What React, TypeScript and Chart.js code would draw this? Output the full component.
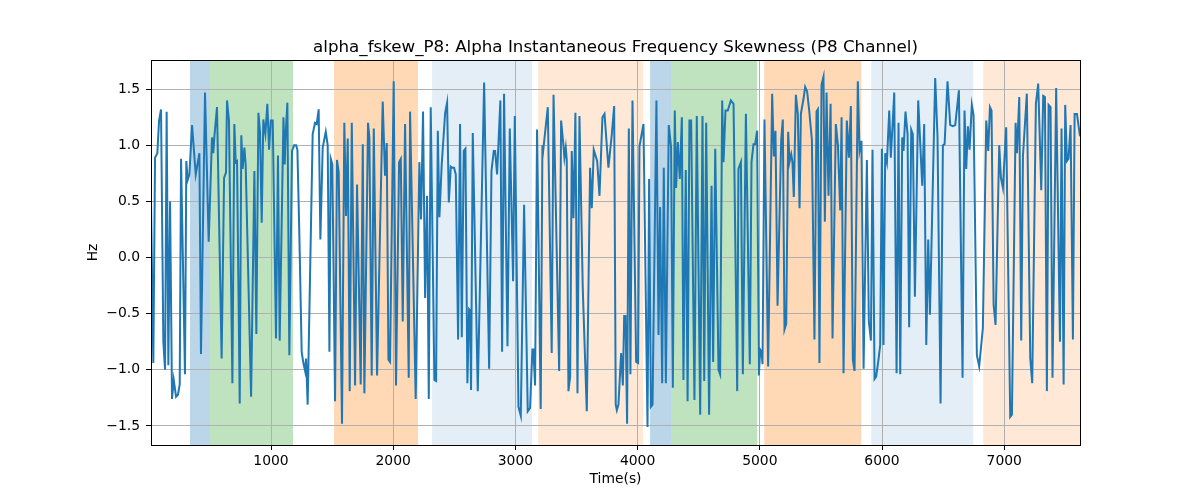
import React, { useEffect, useRef } from "react";
import { Chart, registerables } from "chart.js";

Chart.register(...registerables);

const chartTitle = "alpha_fskew_P8: Alpha Instantaneous Frequency Skewness (P8 Channel)";
const xAxisLabel = "Time(s)";
const yAxisLabel = "Hz";

const xTicks = [1000, 2000, 3000, 4000, 5000, 6000, 7000];
const yTicks = [-1.5, -1.0, -0.5, 0.0, 0.5, 1.0, 1.5];
const xMin = 18;
const xMax = 7620;
const yMin = -1.67;
const yMax = 1.76;

const spanStarts = [337, 501, 1516, 2318, 3186, 4102, 4274, 5036, 5912, 6828];
const spanEnds = [501, 1180, 2203, 3137, 4045, 4274, 4978, 5830, 6746, 7622];
const spanColors = [
  "rgba(31,119,180,0.3)",
  "rgba(44,160,44,0.3)",
  "rgba(255,127,14,0.3)",
  "rgba(31,119,180,0.12)",
  "rgba(255,127,14,0.17)",
  "rgba(31,119,180,0.3)",
  "rgba(44,160,44,0.3)",
  "rgba(255,127,14,0.3)",
  "rgba(31,119,180,0.12)",
  "rgba(255,127,14,0.17)",
];

const times = [
  18, 37, 51, 70, 84, 100, 119, 133, 146, 160, 174, 190, 204, 223, 239, 253, 264, 296, 307, 318,
  332, 354, 384, 414, 427, 460, 490, 517, 528, 536, 558, 596, 616, 632, 640, 656, 684, 700, 711, 722,
  744, 757, 768, 782, 793, 837, 864, 880, 897, 910, 924, 937, 954, 970, 984, 998, 1014, 1041, 1057, 1071,
  1102, 1112, 1120, 1134, 1150, 1172, 1189, 1205, 1216, 1232, 1251, 1265, 1279, 1287, 1300, 1341, 1360, 1374, 1390, 1404,
  1423, 1448, 1464, 1478, 1489, 1502, 1524, 1540, 1554, 1581, 1600, 1614, 1628, 1644, 1661, 1688, 1704, 1734, 1751, 1764,
  1794, 1805, 1824, 1841, 1868, 1914, 1933, 1947, 1961, 1974, 2004, 2023, 2048, 2062, 2078, 2097, 2127, 2138, 2184, 2214,
  2228, 2244, 2261, 2277, 2291, 2307, 2337, 2351, 2365, 2378, 2397, 2425, 2441, 2455, 2471, 2485, 2498, 2512, 2531, 2547,
  2561, 2577, 2591, 2607, 2621, 2629, 2637, 2651, 2692, 2744, 2785, 2804, 2823, 2834, 2850, 2877, 2891, 2907, 2935, 2954,
  2981, 2995, 3025, 3044, 3071, 3101, 3120, 3139, 3147, 3161, 3177, 3207, 3221, 3227, 3265, 3297, 3312, 3358, 3374, 3393,
  3401, 3412, 3420, 3434, 3448, 3461, 3475, 3491, 3508, 3524, 3551, 3584, 3611, 3625, 3641, 3669, 3688, 3712, 3729, 3761,
  3789, 3808, 3821, 3830, 3843, 3865, 3879, 3890, 3901, 3914, 3928, 3941, 3958, 3988, 4004, 4015, 4048, 4081, 4094, 4108,
  4122, 4154, 4171, 4184, 4201, 4214, 4231, 4255, 4274, 4288, 4304, 4315, 4329, 4345, 4362, 4375, 4394, 4409, 4424, 4438,
  4465, 4484, 4512, 4531, 4545, 4561, 4585, 4605, 4618, 4635, 4662, 4675, 4692, 4703, 4719, 4738, 4763, 4785, 4815, 4825,
  4845, 4861, 4886, 4918, 4932, 4948, 4962, 4978, 4992, 5003, 5014, 5022, 5038, 5068, 5101, 5115, 5128, 5145, 5175, 5188,
  5202, 5216, 5232, 5243, 5257, 5267, 5278, 5295, 5311, 5325, 5336, 5357, 5371, 5387, 5404, 5426, 5447, 5464, 5475, 5488,
  5505, 5521, 5532, 5546, 5562, 5579, 5595, 5622, 5639, 5658, 5669, 5685, 5712, 5729, 5745, 5761, 5775, 5802, 5816, 5832,
  5849, 5876, 5892, 5909, 5922, 5939, 5952, 5971, 5985, 5999, 6012, 6026, 6040, 6059, 6072, 6100, 6119, 6135, 6149, 6165,
  6176, 6192, 6209, 6222, 6239, 6252, 6269, 6296, 6329, 6345, 6362, 6378, 6392, 6435, 6454, 6479, 6498, 6512, 6536, 6558,
  6580, 6599, 6629, 6659, 6675, 6689, 6703, 6716, 6735, 6749, 6776, 6795, 6825, 6853, 6869, 6883, 6896, 6913, 6929, 6959,
  6973, 6989, 7016, 7049, 7063, 7093, 7104, 7123, 7139, 7153, 7185, 7213, 7229, 7259, 7278, 7303, 7319, 7333, 7349, 7363,
  7379, 7395, 7425, 7456, 7469, 7486, 7499, 7513, 7526, 7543, 7562, 7576, 7595, 7620,
];

const values = [
  0.49, -0.94, 0.89, 0.93, 1.22, 1.32, -0.75, -1.0, 1.3, -0.96, 0.5, -1.26, -1.09, -1.24, -1.22, -1.13, 0.88, -1.04, 0.86, 0.69,
  0.74, 1.18, 0.74, 0.93, -0.86, 1.47, 0.14, 1.07, 0.93, 1.07, 1.34, -0.9, 0.71, 0.76, 1.4, 1.22, -1.12, 1.19, 0.85, 0.86,
  -1.3, 1.09, 0.79, 0.98, 0.82, -1.24, 0.77, -0.68, 1.29, 1.12, 0.31, 1.23, 1.1, 1.37, 0.96, 1.22, 1.22, -0.72, 0.91, -0.74,
  1.25, 0.83, 1.1, 1.38, -0.87, 0.95, 1.0, 1.0, 0.96, 0.2, -0.84, -0.94, -1.01, -0.9, -1.31, 1.1, 1.2, 1.19, 1.32, 0.16,
  0.98, 1.12, 1.0, -0.84, 0.88, 0.83, -1.28, 0.87, 0.76, -1.48, 1.2, 0.37, 1.06, -1.19, 1.2, -1.14, 0.65, -1.13, 1.01, -1.21,
  1.2, 1.07, -1.05, 1.15, -1.05, 1.39, 0.73, 1.02, -0.91, -0.93, 1.57, -1.14, 0.85, 0.88, -0.57, 1.19, -1.07, 1.3, -1.26, 0.85,
  0.34, 1.3, -0.36, 0.55, -1.26, 1.34, -1.09, -1.1, 1.13, 0.36, 0.83, 1.29, 1.38, 0.49, 0.81, 0.8, 0.8, 0.74, -0.73, 1.19,
  -0.71, 0.95, 0.97, -1.12, -0.46, -0.47, -1.18, 1.11, -1.19, 1.56, -0.99, 0.77, 0.95, 0.95, 0.74, 1.4, -0.84, 1.46, -0.79, 1.15,
  -0.21, 1.26, -1.33, -1.41, 0.47, -1.37, -1.34, -0.82, -0.82, -1.14, 1.14, -1.35, 1.0, 0.95, 1.34, -0.85, 1.45, -1.01, 1.22, 1.0,
  0.89, 0.98, 0.87, -1.19, -1.06, 0.95, 0.35, 1.29, -1.21, 1.26, -0.27, -1.37, 0.8, 0.44, 0.96, 0.86, 0.55, 1.25, 1.28, 0.8,
  1.1, 1.35, -1.31, -1.36, -1.31, -0.85, -1.14, -0.52, -0.52, -1.48, 1.15, -1.04, 1.4, -0.93, -0.94, 0.99, 1.19, -1.51, 0.7, -1.33,
  -1.31, 1.4, -0.69, 0.45, -1.12, 0.8, -1.12, 1.18, 0.98, -1.16, 1.31, 0.62, 1.03, 0.7, 1.25, -1.09, 0.78, -1.28, 1.22, 1.22,
  -1.27, 1.26, -1.4, 1.26, -1.1, 1.2, -1.4, 0.64, -0.93, 0.97, -1.0, -1.04, 1.4, 0.85, 1.31, 1.31, 1.4, 1.37, -1.19, 0.79,
  0.85, -1.04, 1.28, -0.95, 0.85, 1.01, 1.01, 1.13, -1.05, -0.82, -0.84, -0.95, 1.23, -0.97, 1.46, 0.9, 1.13, -0.43, 1.05, 1.23,
  -0.64, -0.59, 1.12, 0.85, 0.92, 0.85, 0.54, 1.45, 1.28, 0.44, 1.28, 1.41, 1.52, 1.48, 1.31, 1.05, -0.73, 1.3, 1.32, -0.94,
  1.54, 1.61, 0.32, 1.47, 0.55, 1.37, -0.72, 1.19, 1.0, 0.42, 1.25, -1.03, 1.22, 0.89, 1.35, -0.91, -1.01, 1.57, 0.95, 1.04,
  -0.99, 0.87, -0.57, -0.74, 0.96, -1.08, -1.06, -0.91, -0.78, 0.97, -0.78, 0.93, 0.85, 1.31, 0.89, 1.47, -1.03, 1.2, -1.04, 1.07,
  0.95, 1.3, 1.1, -0.62, 1.14, 1.1, -0.35, 1.4, 0.64, 1.19, -0.78, 0.16, -0.51, 1.6, 1.08, -1.3, 1.0, 1.01, 1.57, 1.18,
  1.17, 1.18, 1.49, -1.07, 1.31, 0.79, 1.17, 0.96, 1.36, 1.27, -0.87, -0.97, -0.63, 1.22, 0.95, 1.34, 1.31, -0.42, -0.6, 1.0,
  0.71, 0.62, 1.16, -1.42, -1.4, 1.2, 0.93, 1.43, -0.74, 0.9, 1.46, -0.9, -1.12, 1.37, 1.55, 0.6, 1.44, 1.43, -1.19, 1.36,
  1.34, -1.07, 1.51, -0.75, 1.15, -1.13, 1.36, 0.86, 0.88, 1.18, -0.73, 1.28, 1.28, 1.08,
];

const FONT = "'DejaVu Sans', sans-serif";

const spansPlugin = {
  id: "spans",
  beforeDraw(chart: any) {
    const { ctx, chartArea, scales } = chart;
    ctx.save();
    ctx.beginPath();
    ctx.rect(chartArea.left, chartArea.top, chartArea.right - chartArea.left, chartArea.bottom - chartArea.top);
    ctx.clip();
    spanStarts.forEach((s, i) => {
      const x0 = scales.x.getPixelForValue(s);
      const x1 = scales.x.getPixelForValue(spanEnds[i]);
      ctx.fillStyle = spanColors[i];
      ctx.fillRect(x0, chartArea.top, x1 - x0, chartArea.bottom - chartArea.top);
    });
    ctx.restore();
  },
};

const framePlugin = {
  id: "frame",
  afterDraw(chart: any) {
    const { ctx, chartArea } = chart;
    ctx.save();
    ctx.strokeStyle = "#000";
    ctx.lineWidth = 1;
    ctx.strokeRect(
      Math.round(chartArea.left) + 0.5,
      Math.round(chartArea.top) + 0.5,
      Math.round(chartArea.right - chartArea.left),
      Math.round(chartArea.bottom - chartArea.top)
    );
    ctx.fillStyle = "#000";
    ctx.font = `16.7px ${FONT}`;
    ctx.textAlign = "center";
    ctx.textBaseline = "alphabetic";
    ctx.fillText(chartTitle, (chartArea.left + chartArea.right) / 2, 52);
    ctx.restore();
  },
};

export default function App() {
  const ref = useRef<HTMLCanvasElement>(null);
  useEffect(() => {
    if (!ref.current) return;
    const data = times.map((t, i) => ({ x: t, y: values[i] }));
    const chart = new Chart(ref.current, {
      type: "line",
      data: {
        datasets: [
          {
            data,
            borderColor: "#1f77b4",
            borderWidth: 2,
            pointRadius: 0,
            tension: 0,
            fill: false,
          },
        ],
      },
      options: {
        animation: false,
        responsive: false,
        devicePixelRatio: 1,
        layout: { padding: { top: 60, right: 120, bottom: 0, left: 0 } },
        plugins: { legend: { display: false }, tooltip: { enabled: false }, title: { display: false } },
        scales: {
          x: {
            type: "linear",
            min: xMin,
            max: xMax,
            afterBuildTicks: (s: any) => {
              s.ticks = xTicks.map((v) => ({ value: v }));
            },
            afterFit: (s: any) => {
              s.height = 55;
            },
            grid: { color: "#b0b0b0", lineWidth: 1, tickColor: "#000", tickLength: 5, tickWidth: 1 },
            border: { display: true, color: "#000", width: 1 },
            ticks: {
              color: "#000",
              font: { family: FONT, size: 13.9 },
              padding: 3,
              maxRotation: 0,
              autoSkip: false,
              callback: (v: any) => String(v),
            },
            title: {
              display: true,
              text: xAxisLabel,
              color: "#000",
              font: { family: FONT, size: 13.9 },
              padding: { top: 0, bottom: 12 },
            },
          },
          y: {
            type: "linear",
            min: yMin,
            max: yMax,
            afterBuildTicks: (s: any) => {
              s.ticks = yTicks.map((v) => ({ value: v }));
            },
            afterFit: (s: any) => {
              s.width = 151;
            },
            grid: { color: "#b0b0b0", lineWidth: 1, tickColor: "#000", tickLength: 5, tickWidth: 1 },
            border: { display: true, color: "#000", width: 1 },
            ticks: {
              color: "#000",
              font: { family: FONT, size: 13.9 },
              padding: 6,
              autoSkip: false,
              callback: (v: any) => Number(v).toFixed(1).replace("-", "\u2212"),
            },
            title: {
              display: true,
              text: yAxisLabel,
              color: "#000",
              font: { family: FONT, size: 13.9 },
              padding: { top: 85, bottom: 0 },
            },
          },
        },
      },
      plugins: [spansPlugin, framePlugin],
    });
    return () => chart.destroy();
  }, []);
  return (
    <div style={{ position: "absolute", left: 0, top: 0, width: 1200, height: 500 }}>
      <canvas ref={ref} width={1200} height={500} style={{ display: "block", width: 1200, height: 500 }} />
    </div>
  );
}
